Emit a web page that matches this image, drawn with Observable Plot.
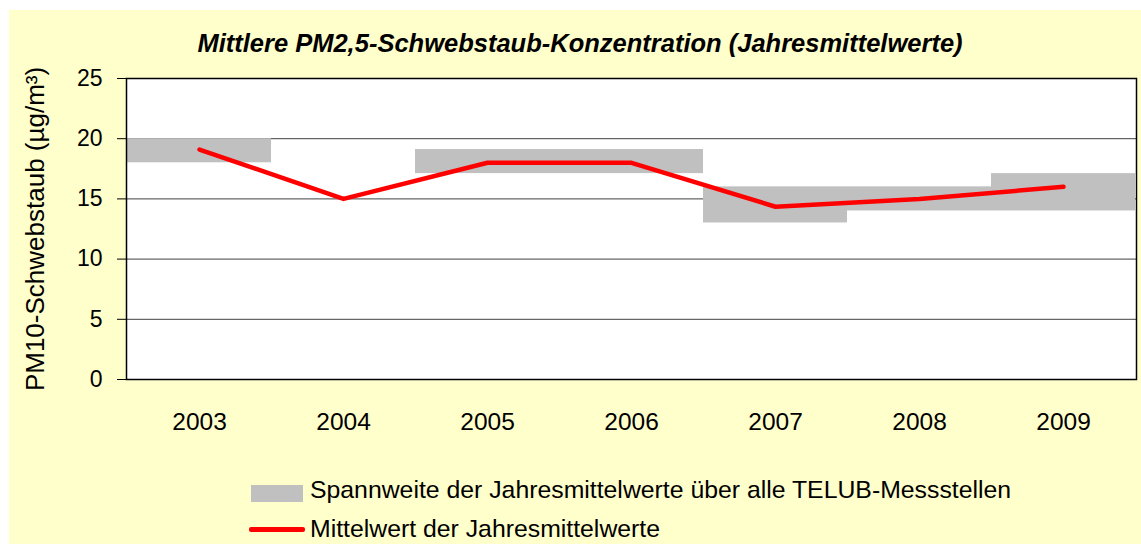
<!DOCTYPE html>
<html>
<head>
<meta charset="utf-8">
<script src="https://cdn.jsdelivr.net/npm/d3@7"></script>
<script src="https://cdn.jsdelivr.net/npm/@observablehq/plot@0.6"></script>
<style>
  html, body { margin: 0; padding: 0; background: #ffffff; }
  #wrap { position: relative; width: 1141px; height: 544px; overflow: hidden; background: #ffffff; font-family: "Liberation Sans", Arial, sans-serif; }
  #bg { position: absolute; left: 9px; top: 10px; right: 0; bottom: 0; background: #ffffcc; }
  #chart { position: absolute; left: 0; top: 0; }
  #title { position: absolute; left: 180px; width: 800px; top: 29px; text-align: center; font-weight: bold; font-style: italic; font-size: 25.5px; color: #000; white-space: nowrap; }
  .leg { position: absolute; font-size: 24.8px; line-height: 28px; color: #000; white-space: nowrap; }
  .sw { position: absolute; }
</style>
</head>
<body>
<div id="wrap">
  <div id="bg"></div>
  <div id="chart"></div>
  <div id="title">Mittlere PM2,5-Schwebstaub-Konzentration (Jahresmittelwerte)</div>
  <div class="sw" style="left:251px; top:485px; width:52px; height:17px; background:#c0c0c0;"></div>
  <div class="leg" style="left:310px; top:476px;">Spannweite der Jahresmittelwerte über alle TELUB-Messstellen</div>
  <div class="sw" style="left:249px; top:527px; width:56px; height:4.5px; background:#ff0000; border-radius:2px;"></div>
  <div class="leg" style="left:310px; top:515px;">Mittelwert der Jahresmittelwerte</div>
</div>
<script>
const years = ["2003", "2004", "2005", "2006", "2007", "2008", "2009"];
const rangeLow = [18, null, 17.1, 17.1, 13, 14, 14];
const rangeHigh = [20, null, 19.1, 19.1, 16, 16, 17.1];
const meanValues = [19.1, 15, 18, 18, 14.35, 15, 16];
const yTicks = [0, 5, 10, 15, 20, 25];
const gridTicks = [5, 10, 15, 20];

const ranges = years.map((y, i) => ({year: y, low: rangeLow[i], high: rangeHigh[i]})).filter(d => d.low != null);
const means = years.map((y, i) => ({year: y, value: meanValues[i]}));

const chart = Plot.plot({
  width: 1141,
  height: 544,
  marginLeft: 126,
  marginRight: 5,
  marginTop: 78,
  marginBottom: 165,
  style: {background: "transparent", fontFamily: "Liberation Sans, Arial, sans-serif", fontSize: "22px", color: "#000"},
  x: {domain: years, type: "band", paddingInner: 0, paddingOuter: 0, axis: null},
  y: {domain: [0, 25], axis: null},
  marks: [
    Plot.frame({fill: "#ffffff"}),
    Plot.ruleY(gridTicks, {stroke: "#404040", strokeWidth: 1}),
    Plot.barY(ranges, {x: "year", y1: "low", y2: "high", fill: "#c0c0c0", inset: 0}),
    Plot.line(means, {x: "year", y: "value", stroke: "#ff0000", strokeWidth: 4.5, strokeLinecap: "round", strokeLinejoin: "round"}),
    Plot.frame({stroke: "#000000", strokeWidth: 1.5}),
    Plot.axisY(yTicks, {tickSize: 9, tickFormat: () => "", label: null}),
    Plot.text(yTicks, {y: d => d, text: d => String(d), frameAnchor: "left", dx: -24, textAnchor: "end", fontSize: 23, fill: "#000"}),
    Plot.text(["PM10-Schwebstaub (µg/m³)"], {frameAnchor: "left", dx: -91, rotate: -90, textAnchor: "middle", fontSize: 26, fill: "#000"}),
    Plot.axisX(years, {tickSize: 0, tickPadding: 33, fontSize: 24.5, label: null})
  ]
});
document.getElementById("chart").appendChild(chart);
</script>
</body>
</html>
